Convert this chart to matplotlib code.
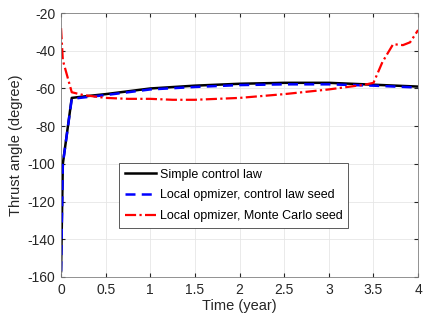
import matplotlib
matplotlib.use("Agg")
import matplotlib.pyplot as plt

plt.rcParams['font.family'] = ['Liberation Sans', 'DejaVu Sans']
plt.rcParams['axes.unicode_minus'] = False

t_simple = [0, 0.02, 0.12, 0.3, 0.5, 0.75, 1.0, 1.5, 2.0, 2.5, 3.0, 3.5, 4.0]
simple = [-157, -100, -65, -64, -63, -61.5, -60, -58.5, -57.5, -57, -57, -58, -59]

t_local = [0, 0.02, 0.12, 0.3, 0.5, 0.75, 1.0, 1.5, 2.0, 2.5, 3.0, 3.5, 4.0]
local = [-157, -100, -65.5, -64.5, -63.5, -62, -60.5, -59.2, -58.2, -57.8, -57.8, -58.5, -59.5]

t_mc = [0, 0.02, 0.12, 0.25, 0.5, 0.75, 1.0, 1.25, 1.5, 2.0, 2.5, 3.0, 3.4, 3.5, 3.6, 3.72, 3.83, 3.91, 4.0]
mc = [-28, -45, -62, -63.5, -65, -65.5, -65.5, -66, -66, -65, -63, -60.5, -58, -57, -46, -36.5, -37, -35.5, -29]

xticks = [0, 0.5, 1, 1.5, 2, 2.5, 3, 3.5, 4]
xticklabels = ['0', '0.5', '1', '1.5', '2', '2.5', '3', '3.5', '4']
yticks = [-160, -140, -120, -100, -80, -60, -40, -20]

fig = plt.figure(figsize=(4.36, 3.27), dpi=100)
ax = fig.add_axes([0.14, 0.153, 0.819, 0.807])

ax.plot(t_simple, simple, color='black', lw=1.8, label='Simple control law')
ax.plot(t_local, local, color='blue', lw=1.8, ls=(0, (4, 2.5)), label='Local opmizer, control law seed')
ax.plot(t_mc, mc, color='red', lw=1.6, ls=(0, (5, 1.5, 1, 1.5)), label='Local opmizer, Monte Carlo seed')

ax.set_xlim(0, 4)
ax.set_ylim(-160, -20)
ax.set_xticks(xticks)
ax.set_xticklabels(xticklabels)
ax.set_yticks(yticks)
ax.tick_params(direction='in', top=True, right=True, labelsize=10, colors='#262626', length=3, pad=4)
ax.grid(True, color='#e6e6e6', lw=0.6)
ax.set_axisbelow(True)
for s in ax.spines.values():
    s.set_color('#808080')
    s.set_linewidth(0.6)
ax.set_xlabel('Time (year)', fontsize=10.5, color='#262626', labelpad=2)
ax.set_ylabel('Thrust angle (degree)', fontsize=10.5, color='#262626', labelpad=3)

leg = ax.legend(loc='upper left', bbox_to_anchor=(0.162, 0.432), borderaxespad=0, fontsize=9,
                frameon=True, fancybox=False, edgecolor='#404040', handlelength=2.5,
                borderpad=0.45, labelspacing=0.7, handletextpad=0.3, framealpha=1)
leg.get_frame().set_linewidth(0.6)

fig.savefig('out.png', dpi=100)
